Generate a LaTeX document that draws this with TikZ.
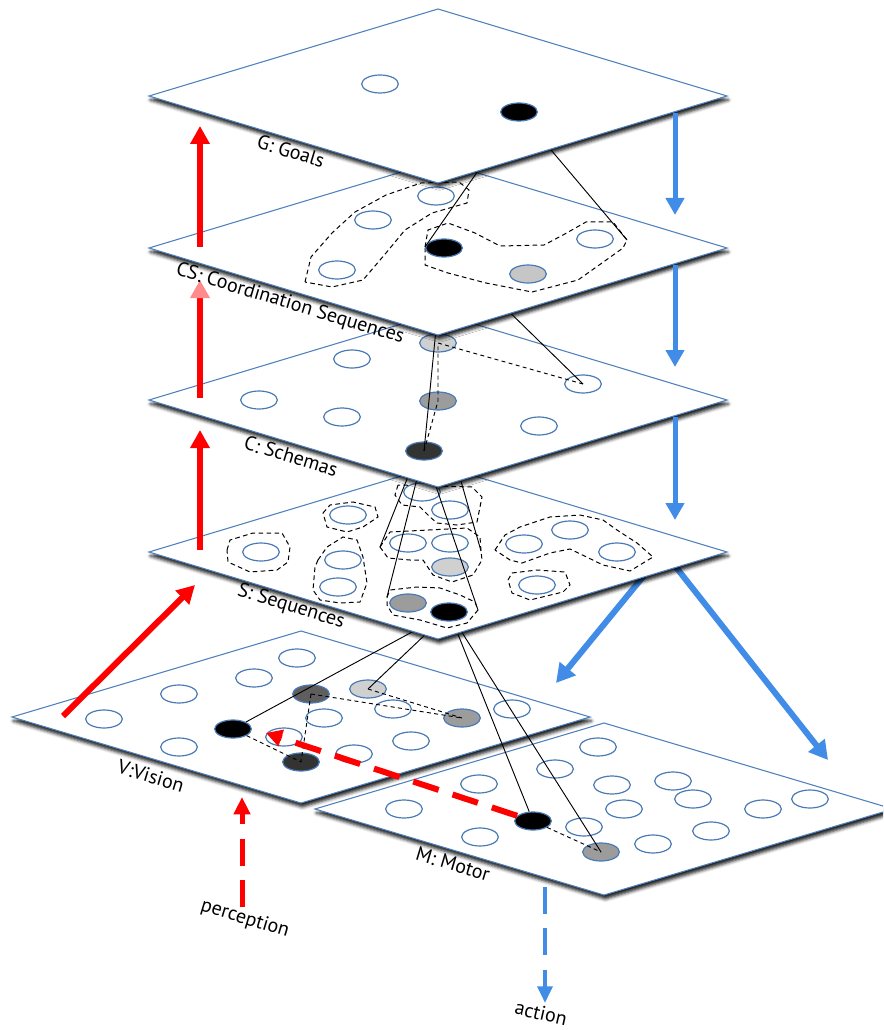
\documentclass[tikz,border=0pt]{standalone}
\usepackage{fontspec}
\setmainfont{PT Sans}
\usetikzlibrary{shapes.geometric,arrows.meta,shadows.blur}

\definecolor{edgeblue}{HTML}{4F81BD}
\definecolor{ovalblue}{HTML}{4A7AB5}
\definecolor{arrowblue}{HTML}{418CE6}
\definecolor{ltgray}{HTML}{D0D0D0}
\definecolor{midgray}{HTML}{9C9C9C}
\definecolor{dkgray}{HTML}{5E5E5E}
\definecolor{dkrgray}{HTML}{333333}
\definecolor{arrowred}{HTML}{FF0000}

% one layer of the hierarchy: a flat diamond seen in perspective
\newcommand\drawlayer[3]{%
  \filldraw[layerface] ({#1-289},#2) -- (#1,{#2-#3}) -- ({#1+289},#2) -- (#1,{#2+#3}) -- cycle;}

\begin{document}
\begin{tikzpicture}[x=0.75pt,y=-0.75pt,
  layerface/.style={draw=edgeblue, line width=0.8pt, fill=white,
    blur shadow={shadow xshift=1pt, shadow yshift=-3pt, shadow blur radius=2.5pt, shadow opacity=90}},
  cell/.style={ellipse, draw=ovalblue, line width=0.9pt, fill=white,
    minimum width=27.5pt, minimum height=13.5pt, inner sep=0pt},
  hull/.style={draw=black, line width=0.75pt, dash pattern=on 3.5pt off 2.5pt},
  link/.style={draw=black, line width=0.7pt},
  dlink/.style={link, dash pattern=on 3pt off 2.5pt},
  uparrow/.style={draw=arrowred, line width=4.5pt,
    -{Triangle[length=13.5pt,width=14pt]}},
  downarrow/.style={draw=arrowblue, line width=3.75pt,
    -{Triangle[length=12.75pt,width=13.5pt]}},
  slantarrow/.style={draw=arrowblue, line width=4.5pt,
    -{Triangle[length=14pt,width=15pt]}},
  lab/.style={font=\fontsize{15}{17}\selectfont, rotate=-16.8, inner sep=0pt}]

\useasboundingbox (0,0) rectangle (883,1030);
\clip (0,0) rectangle (883,1030);

% centres of nodes whose links run beneath the layer above
\coordinate (gBk) at (519,112);
\coordinate (csBk) at (444,248);
\coordinate (cMidK) at (438,401);
\coordinate (cDkK) at (424,451);
\coordinate (sBk) at (449,612);

% ---------------- M: Motor
\drawlayer{604}{809}{86}
\foreach \p [count=\i] in {(598,747),(555,769),(479,784),(612,785),(673,781),(693,799),(624,809),
    (404,809),(584,827),(480,837),(653,844),(711,831),(763,809),(810,799)}
  \node[cell] (m\i) at \p {};
\node[cell, fill=black] (mB) at (533,821) {};
\node[cell, fill=midgray] (mG) at (601,852) {};
\draw[dlink] (mB) -- (mG.center);

% ---------------- V: Vision
\drawlayer{301}{717}{86}
\foreach \p [count=\i] in {(104,719),(179,694),(254,678),(297,658),(179,747),(324,718),
    (284,737),(393,709),(512,709),(354,754),(411,741)}
  \node[cell] (v\i) at \p {};
\node[cell, fill=dkgray] (vDG) at (311,694) {};
\node[cell, fill=ltgray] (vLG) at (368,689) {};
\node[cell, fill=midgray] (vG) at (462,718) {};
\node[cell, fill=black] (vB) at (233,729) {};
\node[cell, fill=dkrgray] (vD) at (301,762) {};
\draw[dlink] (vDG.center) -- (vG.center);
\draw[dlink] (vLG.center) -- (vG.center);
\draw[dlink] (vDG.center) -- (vD.center);
\draw[dlink] (vB) -- (vD.center);

% links from the sequence layer down to vision and motor
\draw[link] (sBk) -- (vB);
\draw[link] (sBk) -- (vLG.center);
\draw[link] (sBk) -- (mB);
\draw[link] (sBk) -- (mG.center);

% top-down flow into vision and motor
\coordinate (bd1s) at (660,556); \coordinate (bd1e) at (556,683);
\coordinate (bd2s) at (664,552); \coordinate (bd2e) at (828,760);
\draw[slantarrow] (bd1s) -- (bd1e);
\draw[slantarrow] (bd2s) -- (bd2e);

% ---------------- S: Sequences
\drawlayer{438}{552}{87}
\coordinate (s5L) at (380,547); \coordinate (s5R) at (481,551);
\coordinate (s6L) at (387,597); \coordinate (s6R) at (478,610);
\draw[hull] (227,550) -- (230,540) -- (253,533) -- (282,533) -- (290,547) -- (288,562)
  -- (277,570) -- (250,572) -- (228,562) -- cycle;
\draw[hull] (323,513) -- (330,505) -- (353,502) -- (375,507) -- (378,517) -- (363,527)
  -- (347,532) -- (327,527) -- cycle;
\draw[hull] (318,560) -- (327,547) -- (343,537) -- (357,540) -- (363,557) -- (367,583)
  -- (360,602) -- (340,603) -- (320,600) -- (313,590) -- (315,567) -- cycle;
\draw[hull] (398,485) -- (395,495) -- (402,505) -- (420,507) -- (430,517) -- (437,523)
  -- (457,525) -- (477,522) -- (482,497) -- (472,487) -- cycle;
\draw[hull] (s5L) -- (390,532) -- (467,528) -- (480,537) -- (s5R) -- (482,560) -- (473,575)
  -- (452,582) -- (433,575) -- (423,560) -- (410,560) -- (388,558) -- cycle;
\draw[hull] (s6L) -- (390,590) -- (417,587) -- (440,588) -- (460,595) -- (475,602) -- (s6R)
  -- (467,623) -- (447,628) -- (420,620) -- (393,615) -- (387,605) -- cycle;
\draw[hull] (495,550) -- (505,535) -- (520,527) -- (550,517) -- (580,515) -- (603,520)
  -- (617,530) -- (637,543) -- (653,557) -- (630,571) -- (603,565) -- (570,549)
  -- (550,553) -- (522,563) -- (510,560) -- cycle;
\draw[hull] (508,580) -- (512,573) -- (537,570) -- (565,572) -- (570,585) -- (563,592)
  -- (530,600) -- (512,593) -- cycle;
\foreach \p [count=\i] in {(261,552),(348,515),(343,560),(338,587),(422,492),(450,510),
    (408,543),(450,543),(570,530),(524,544),(617,552),(537,585)}
  \node[cell] (s\i) at \p {};
\node[cell, fill=ltgray] (sL) at (450,567) {};
\node[cell, fill=midgray] (sM) at (408,603) {};
\node[cell, fill=black] (sB) at (sBk) {};

% links from schemas to the sequence groups they stand for
\draw[link] (cMidK) -- (s5L);
\draw[link] (cMidK) -- (s5R);
\draw[link] (cDkK) -- (s6L);
\draw[link] (cDkK) -- (s6R);

% ---------------- C: Schemas
\drawlayer{438}{400}{87}
\foreach \p [count=\i] in {(352,359),(259,400),(342,417),(539,426)}
  \node[cell] (c\i) at \p {};
\node[cell] (cR) at (583,384) {};
\node[cell, fill=ltgray] (cL) at (438,343) {};
\node[cell, fill=midgray] (cM) at (cMidK) {};
\node[cell, fill=dkrgray] (cD) at (cDkK) {};
\draw[dlink] (cR.center) -- (cL.center) -- (cM.center) -- (cD.center);

% links from coordination sequences to schemas
\draw[link] (csBk) -- (cD.center);
\draw[link] (csBk) -- (cR.center);

% ---------------- CS: Coordination Sequences
\drawlayer{438}{248}{87}
\coordinate (cs2L) at (425,247); \coordinate (cs2R) at (627,240);
\draw[hull] (305,282) -- (311,257) -- (332,233) -- (355,212) -- (386,195) -- (421,183)
  -- (459,182) -- (469,190) -- (467,203) -- (432,213) -- (405,230) -- (386,253)
  -- (363,280) -- (332,287) -- cycle;
\draw[hull] (cs2L) -- (428,230) -- (448,223) -- (475,233) -- (500,246) -- (544,245)
  -- (563,235) -- (586,222) -- (613,222) -- (cs2R) -- (623,248) -- (602,263)
  -- (578,280) -- (532,292) -- (486,283) -- (448,273) -- (425,265) -- cycle;
\foreach \p [count=\i] in {(436,196),(373,220),(337,270),(595,239)}
  \node[cell] (cs\i) at \p {};
\node[cell, fill=black] (csB) at (csBk) {};
\node[cell, fill=ltgray!95!black] (csG) at (528,274) {};

% links from the goal to its coordination sequence
\draw[link] (gBk) -- (cs2L);
\draw[link] (gBk) -- (cs2R);

% ---------------- G: Goals
\drawlayer{438}{96}{87}
\node[cell] (g1) at (380,84) {};
\node[cell, fill=black] (gB) at (gBk) {};

% ---------------- bottom-up (red) and top-down (blue) flow
\coordinate (r1s) at (200,247); \coordinate (r1e) at (200,126);
\coordinate (r2s) at (200,398); \coordinate (r2e) at (200,280);
\coordinate (r3s) at (200,550); \coordinate (r3e) at (200,430);
\coordinate (r4s) at (63,716);  \coordinate (r4e) at (195,585);
\draw[uparrow] (r1s) -- (r1e);
\draw[draw=arrowred, line width=4.5pt,
  -{Triangle[length=13.5pt,width=14pt,color=arrowred!45]}] (r2s) -- (r2e);
\draw[uparrow] (r3s) -- (r3e);
\draw[uparrow] (r4s) -- (r4e);

\coordinate (b1s) at (675,113); \coordinate (b1e) at (675,215);
\coordinate (b2s) at (675,265); \coordinate (b2e) at (675,367);
\coordinate (b3s) at (675,417); \coordinate (b3e) at (675,520);
\draw[downarrow] (b1s) -- (b1e);
\draw[downarrow] (b2s) -- (b2e);
\draw[downarrow] (b3s) -- (b3e);

% efference copy from motor back to vision
\coordinate (ecTip) at (266,733);
\draw[draw=arrowred, line width=4.5pt, dash pattern=on 20pt off 11pt,
  -{Triangle[length=12pt,width=12.5pt]}] (mB) -- (ecTip);

% perception in, action out
\coordinate (pS) at (242,907); \coordinate (pE) at (242,797);
\draw[draw=arrowred, line width=3.75pt, dash pattern=on 20pt off 11pt,
  -{Triangle[length=13pt,width=12pt]}] (pS) -- (pE);
\coordinate (aS) at (545,887); \coordinate (aE) at (545,1003);
\draw[draw=arrowblue, line width=3pt, dash pattern=on 20pt off 11pt,
  -{Triangle[length=12.5pt,width=11pt]}] (aS) -- (aE);

% ---------------- labels
\node[lab] (tG)  at (291,151) {G: Goals};
\node[lab] (tCS) at (290,304) {CS: Coordination Sequences};
\node[lab] (tC)  at (291,456) {C: Schemas};
\node[lab] (tS)  at (291,607) {S: Sequences};
\node[lab] (tV)  at (151,776) {V:Vision};
\node[lab] (tM)  at (453,864) {M: Motor};
\node[lab] (tP)  at (245,919) {perception};
\node[lab, rotate=4] (tA)  at (541,1013) {action};
\end{tikzpicture}
\end{document}
